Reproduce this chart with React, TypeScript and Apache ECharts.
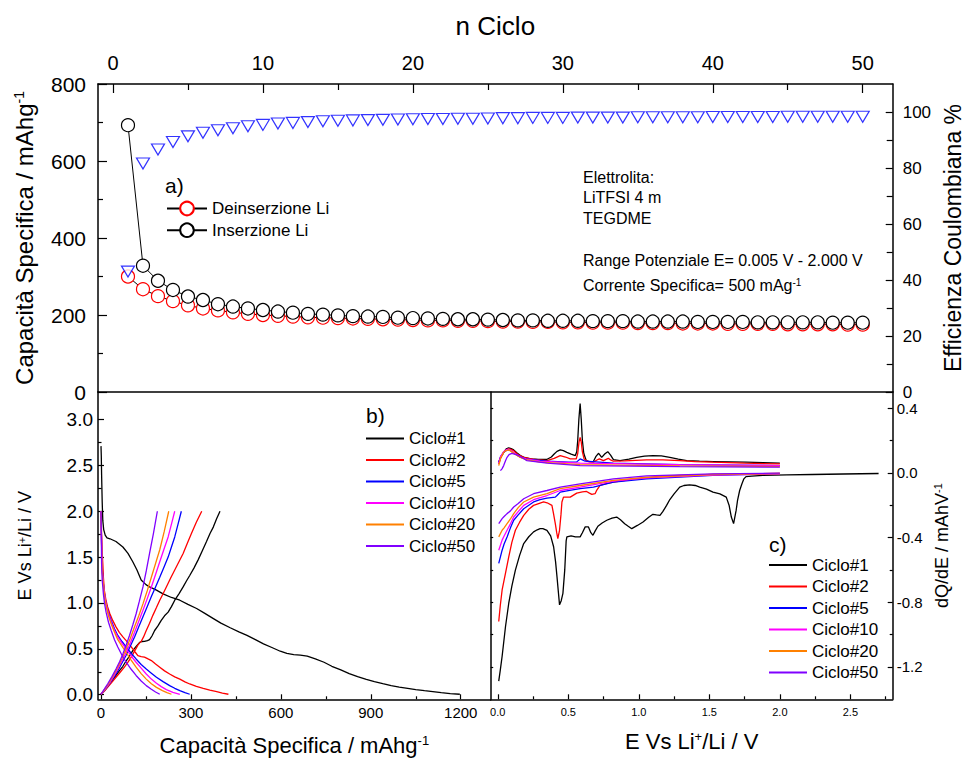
import React, { useEffect, useRef } from 'react';
import * as echarts from 'echarts';

const FONT = '"Liberation Sans", Arial, Helvetica, sans-serif';

// ---------- Panel a: cycling ----------
const cycleNumbers = [1, 2, 3, 4, 5, 6, 7, 8, 9, 10, 11, 12, 13, 14, 15, 16, 17, 18, 19, 20, 21, 22, 23, 24, 25,
  26, 27, 28, 29, 30, 31, 32, 33, 34, 35, 36, 37, 38, 39, 40, 41, 42, 43, 44, 45, 46, 47, 48, 49, 50];
const deinserzione = [300, 267, 249, 236, 225, 217, 212, 207, 203, 200, 198, 196, 194, 193, 192, 191, 190, 189, 188, 187,
  186, 186, 185, 185, 184, 183, 183, 182, 182, 181, 181, 180, 180, 180, 179, 179, 179, 178, 178, 178,
  177, 177, 177, 177, 176, 176, 176, 176, 175, 175];
const inserzione = [693, 328, 289, 265, 248, 239, 228, 222, 217, 213, 209, 206, 203, 201, 199, 197, 196, 195, 193, 192,
  191, 190, 189, 189, 188, 187, 186, 186, 185, 185, 185, 184, 184, 184, 183, 183, 183, 183, 182, 182,
  182, 182, 181, 181, 181, 181, 181, 180, 180, 180];
const efficienza = [43, 81.6, 86.6, 89.3, 91.3, 92.6, 93.5, 94.2, 94.9, 95.4, 95.9, 96.1, 96.4, 96.7, 96.9, 97.0, 97.1, 97.2, 97.3, 97.4,
  97.5, 97.5, 97.6, 97.6, 97.7, 97.8, 97.8, 97.9, 97.9, 97.9, 98.0, 98.0, 98.0, 98.0, 98.1, 98.1, 98.1, 98.1, 98.1, 98.2,
  98.2, 98.2, 98.2, 98.2, 98.3, 98.3, 98.3, 98.3, 98.3, 98.3];

const nCicloTicks = [0, 10, 20, 30, 40, 50];
const nCicloMinor = [5, 15, 25, 35, 45];
const effTicks = [0, 20, 40, 60, 80, 100];
const effMinor = [10, 30, 50, 70, 90];

const annotationLines = ['Elettrolita:', 'LiTFSI 4 m', 'TEGDME', 'Range Potenziale E= 0.005 V - 2.000 V', 'Corrente Specifica= 500 mAg{sup|-1}'];
const annotationY = [177, 197, 218, 260, 285];

// ---------- Panel b: galvanostatic profiles [capacity, V] ----------
const gc1Discharge = [[0, 2.71], [1, 2.6], [2, 2.4], [4, 2.1], [6, 1.9], [9, 1.8], [14, 1.74], [20, 1.71], [30, 1.70], [50, 1.67], [73, 1.61], [90, 1.54], [106, 1.45], [120, 1.36], [134, 1.25], [150, 1.2], [162, 1.175], [185, 1.14], [207, 1.10], [235, 1.06], [263, 1.03], [290, 0.985], [319, 0.94], [345, 0.89], [375, 0.83], [400, 0.78], [431, 0.73], [460, 0.685], [487, 0.646], [515, 0.6], [542, 0.555], [570, 0.515], [598, 0.474], [620, 0.45], [643, 0.438], [665, 0.432], [688, 0.42], [715, 0.39], [744, 0.354], [770, 0.31], [800, 0.27], [828, 0.23], [856, 0.197], [885, 0.167], [912, 0.142], [940, 0.12], [968, 0.099], [995, 0.083], [1023, 0.069], [1050, 0.056], [1079, 0.044], [1107, 0.033], [1135, 0.022], [1165, 0.011], [1197, 0.005]];
const gc1Charge = [[0, 0.005], [10, 0.04], [28, 0.117], [45, 0.19], [61, 0.26], [73, 0.31], [84, 0.37], [95, 0.42], [106, 0.48], [118, 0.53], [129, 0.57], [137, 0.58], [145, 0.582], [155, 0.59], [162, 0.6], [170, 0.64], [179, 0.70], [190, 0.75], [201, 0.81], [212, 0.86], [224, 0.90], [235, 0.96], [246, 1.03], [260, 1.10], [274, 1.175], [285, 1.24], [296, 1.30], [310, 1.38], [324, 1.47], [338, 1.57], [352, 1.67], [364, 1.76], [375, 1.83], [386, 1.92], [397, 2.0]];
const gc2Discharge = [[0, 2.0], [2, 1.75], [4, 1.55], [6, 1.43], [8, 1.28], [11, 1.14], [16, 1.04], [22, 0.956], [30, 0.88], [39, 0.81], [50, 0.74], [61, 0.68], [73, 0.63], [84, 0.59], [95, 0.545], [106, 0.5], [115, 0.46], [123, 0.427], [134, 0.415], [145, 0.41], [157, 0.39], [168, 0.372], [182, 0.335], [196, 0.30], [212, 0.26], [229, 0.226], [246, 0.195], [263, 0.17], [280, 0.14], [296, 0.117], [318, 0.09], [341, 0.069], [363, 0.05], [386, 0.033], [405, 0.018], [425, 0.005]];
const gc2Charge = [[0, 0.005], [10, 0.035], [22, 0.08], [36, 0.135], [50, 0.19], [64, 0.245], [78, 0.30], [90, 0.355], [101, 0.41], [112, 0.475], [123, 0.54], [129, 0.565], [134, 0.58], [142, 0.63], [151, 0.70], [162, 0.78], [173, 0.865], [185, 0.95], [196, 1.03], [207, 1.1], [218, 1.175], [232, 1.27], [246, 1.36], [260, 1.45], [274, 1.54], [288, 1.65], [302, 1.76], [318, 1.88], [336, 2.0]];
const gc5Discharge = [[0, 2.0], [1, 1.8], [3, 1.5], [5, 1.33], [8, 1.21], [12, 1.09], [17, 0.99], [25, 0.89], [34, 0.81], [45, 0.72], [56, 0.646], [70, 0.58], [84, 0.52], [100, 0.455], [117, 0.39], [134, 0.33], [151, 0.28], [168, 0.235], [185, 0.19], [207, 0.143], [229, 0.099], [246, 0.07], [263, 0.044], [280, 0.022], [296, 0.005]];
const gc5Charge = [[0, 0.005], [14, 0.055], [28, 0.117], [42, 0.185], [56, 0.26], [70, 0.345], [84, 0.43], [98, 0.53], [112, 0.63], [126, 0.74], [140, 0.85], [154, 0.96], [168, 1.07], [182, 1.175], [196, 1.28], [210, 1.39], [224, 1.50], [235, 1.61], [246, 1.72], [257, 1.86], [268, 2.0]];
const gc10Discharge = [[0, 2.0], [1, 1.8], [3, 1.5], [5, 1.32], [9, 1.18], [13, 1.07], [17, 0.99], [25, 0.88], [34, 0.79], [45, 0.7], [56, 0.63], [70, 0.56], [84, 0.5], [100, 0.425], [117, 0.354], [134, 0.29], [151, 0.226], [168, 0.17], [185, 0.124], [201, 0.088], [218, 0.055], [240, 0.025], [263, 0.005]];
const gc10Charge = [[0, 0.005], [14, 0.06], [28, 0.124], [42, 0.2], [56, 0.28], [70, 0.37], [84, 0.46], [98, 0.565], [112, 0.68], [126, 0.8], [140, 0.92], [154, 1.045], [168, 1.175], [182, 1.31], [196, 1.45], [210, 1.585], [224, 1.72], [235, 1.86], [246, 2.0]];
const gc20Discharge = [[0, 2.0], [1, 1.8], [3, 1.47], [5, 1.3], [9, 1.16], [13, 1.05], [17, 0.97], [25, 0.86], [34, 0.77], [45, 0.68], [56, 0.6], [70, 0.53], [84, 0.46], [100, 0.38], [117, 0.30], [134, 0.23], [151, 0.17], [168, 0.12], [185, 0.08], [205, 0.045], [220, 0.022], [235, 0.005]];
const gc20Charge = [[0, 0.005], [14, 0.065], [28, 0.135], [42, 0.215], [56, 0.30], [70, 0.395], [84, 0.5], [98, 0.615], [112, 0.74], [126, 0.86], [140, 0.99], [154, 1.13], [168, 1.28], [182, 1.43], [196, 1.58], [211, 1.78], [226, 2.0]];
const gc50Discharge = [[0, 2.0], [1, 1.75], [2, 1.43], [4, 1.25], [8, 1.10], [12, 0.99], [17, 0.90], [25, 0.79], [34, 0.70], [45, 0.6], [56, 0.52], [70, 0.43], [84, 0.354], [100, 0.28], [117, 0.21], [134, 0.15], [151, 0.099], [168, 0.06], [182, 0.03], [196, 0.005]];
const gc50Charge = [[0, 0.005], [11, 0.06], [22, 0.117], [36, 0.195], [50, 0.28], [62, 0.36], [73, 0.445], [84, 0.54], [95, 0.646], [106, 0.76], [117, 0.88], [128, 1.02], [140, 1.175], [151, 1.35], [162, 1.54], [175, 1.76], [188, 2.0]];

const capTicks = [0, 300, 600, 900, 1200];
const capMinor = [150, 450, 750, 1050];
const voltTicks = [0, 0.5, 1.0, 1.5, 2.0, 2.5, 3.0];
const voltMinor = [0.25, 0.75, 1.25, 1.75, 2.25, 2.75];

// ---------- Panel c: differential capacity [E, dQ/dE] ----------
const dq1Charge = [[0.007, 0.066], [0.02, 0.095], [0.042, 0.127], [0.06, 0.148], [0.078, 0.154], [0.095, 0.15], [0.113, 0.142], [0.135, 0.125], [0.16, 0.107], [0.19, 0.095], [0.23, 0.086], [0.29, 0.083], [0.35, 0.084], [0.38, 0.098], [0.40, 0.117], [0.42, 0.133], [0.443, 0.142], [0.465, 0.137], [0.49, 0.127], [0.52, 0.116], [0.55, 0.107], [0.56, 0.13], [0.567, 0.2], [0.575, 0.33], [0.584, 0.429], [0.592, 0.33], [0.60, 0.2], [0.61, 0.12], [0.627, 0.076], [0.65, 0.07], [0.678, 0.07], [0.695, 0.1], [0.714, 0.121], [0.725, 0.11], [0.737, 0.096], [0.76, 0.118], [0.78, 0.131], [0.80, 0.11], [0.82, 0.082], [0.867, 0.076], [0.93, 0.085], [0.985, 0.096], [1.04, 0.103], [1.10, 0.107], [1.16, 0.105], [1.22, 0.096], [1.28, 0.085], [1.34, 0.076], [1.43, 0.072], [1.53, 0.07], [1.65, 0.068], [1.76, 0.066], [1.88, 0.063], [2.0, 0.06]];
const dq1Discharge = [[2.70, -0.004], [2.45, -0.007], [2.23, -0.01], [2.05, -0.013], [1.88, -0.016], [1.80, -0.02], [1.76, -0.023], [1.745, -0.037], [1.73, -0.07], [1.715, -0.109], [1.70, -0.17], [1.69, -0.232], [1.672, -0.314], [1.656, -0.273], [1.64, -0.2], [1.62, -0.15], [1.575, -0.13], [1.526, -0.119], [1.48, -0.1], [1.432, -0.088], [1.40, -0.078], [1.36, -0.074], [1.32, -0.078], [1.29, -0.088], [1.25, -0.13], [1.22, -0.165], [1.197, -0.201], [1.17, -0.24], [1.15, -0.263], [1.125, -0.26], [1.10, -0.256], [1.07, -0.275], [1.03, -0.304], [0.99, -0.325], [0.95, -0.345], [0.925, -0.33], [0.90, -0.314], [0.87, -0.29], [0.843, -0.273], [0.81, -0.28], [0.773, -0.293], [0.74, -0.31], [0.71, -0.33], [0.69, -0.36], [0.675, -0.386], [0.66, -0.37], [0.643, -0.334], [0.62, -0.334], [0.60, -0.37], [0.584, -0.396], [0.55, -0.396], [0.52, -0.39], [0.49, -0.396], [0.485, -0.42], [0.475, -0.6], [0.462, -0.745], [0.45, -0.79], [0.438, -0.816], [0.43, -0.74], [0.42, -0.642], [0.41, -0.55], [0.396, -0.457], [0.375, -0.39], [0.349, -0.355], [0.32, -0.345], [0.30, -0.345], [0.28, -0.352], [0.254, -0.365], [0.22, -0.395], [0.184, -0.437], [0.155, -0.51], [0.125, -0.601], [0.1, -0.7], [0.078, -0.806], [0.055, -0.95], [0.031, -1.134], [0.018, -1.22], [0.007, -1.288]];
const dq2Charge = [[0.007, 0.055], [0.02, 0.09], [0.042, 0.127], [0.06, 0.142], [0.078, 0.148], [0.095, 0.145], [0.113, 0.137], [0.14, 0.115], [0.184, 0.096], [0.25, 0.085], [0.349, 0.076], [0.40, 0.09], [0.443, 0.107], [0.48, 0.098], [0.514, 0.086], [0.556, 0.086], [0.567, 0.12], [0.576, 0.19], [0.584, 0.219], [0.592, 0.19], [0.60, 0.13], [0.612, 0.086], [0.64, 0.07], [0.678, 0.066], [0.70, 0.078], [0.72, 0.086], [0.749, 0.076], [0.784, 0.09], [0.80, 0.08], [0.82, 0.072], [0.9, 0.074], [1.055, 0.08], [1.17, 0.08], [1.29, 0.076], [1.4, 0.07], [1.526, 0.066], [1.75, 0.06], [2.0, 0.055]];
const dq2Discharge = [[2.0, -0.004], [1.76, -0.006], [1.526, -0.01], [1.29, -0.016], [1.15, -0.022], [1.055, -0.031], [0.94, -0.042], [0.82, -0.057], [0.76, -0.068], [0.725, -0.078], [0.70, -0.11], [0.69, -0.129], [0.667, -0.133], [0.65, -0.125], [0.63, -0.115], [0.6, -0.118], [0.56, -0.125], [0.514, -0.15], [0.466, -0.15], [0.455, -0.18], [0.448, -0.26], [0.438, -0.355], [0.426, -0.406], [0.418, -0.37], [0.408, -0.314], [0.395, -0.25], [0.384, -0.201], [0.35, -0.185], [0.325, -0.18], [0.29, -0.19], [0.254, -0.201], [0.22, -0.225], [0.184, -0.263], [0.155, -0.305], [0.125, -0.355], [0.1, -0.43], [0.078, -0.519], [0.055, -0.62], [0.031, -0.724], [0.018, -0.82], [0.007, -0.919]];
const dq5Charge = [[0.007, 0.066], [0.02, 0.1], [0.042, 0.127], [0.06, 0.138], [0.078, 0.142], [0.095, 0.135], [0.12, 0.117], [0.16, 0.097], [0.2, 0.086], [0.35, 0.072], [0.5, 0.066], [0.56, 0.068], [0.584, 0.086], [0.6, 0.08], [0.62, 0.072], [0.82, 0.06], [1.29, 0.051], [2.0, 0.045]];
const dq5Discharge = [[2.0, -0.006], [1.526, -0.016], [1.055, -0.037], [0.82, -0.057], [0.678, -0.088], [0.584, -0.098], [0.5, -0.11], [0.443, -0.119], [0.42, -0.14], [0.408, -0.15], [0.349, -0.156], [0.3, -0.166], [0.254, -0.18], [0.184, -0.222], [0.145, -0.26], [0.113, -0.293], [0.09, -0.34], [0.066, -0.396], [0.045, -0.44], [0.031, -0.478], [0.007, -0.56]];
const dq10Charge = [[0.007, 0.06], [0.02, 0.1], [0.042, 0.131], [0.06, 0.143], [0.078, 0.146], [0.095, 0.138], [0.12, 0.121], [0.16, 0.098], [0.2, 0.086], [0.3, 0.072], [0.584, 0.06], [1.29, 0.051], [2.0, 0.045]];
const dq10Discharge = [[2.0, -0.006], [1.526, -0.014], [1.055, -0.031], [0.82, -0.051], [0.584, -0.088], [0.443, -0.109], [0.349, -0.14], [0.254, -0.166], [0.184, -0.201], [0.145, -0.24], [0.113, -0.273], [0.09, -0.315], [0.066, -0.355], [0.045, -0.39], [0.031, -0.416], [0.007, -0.478]];
const dq20Charge = [[0.007, 0.045], [0.02, 0.09], [0.042, 0.127], [0.06, 0.138], [0.078, 0.142], [0.095, 0.133], [0.12, 0.117], [0.16, 0.095], [0.2, 0.082], [0.3, 0.066], [0.584, 0.051], [1.29, 0.043], [2.0, 0.039]];
const dq20Discharge = [[2.0, -0.004], [1.526, -0.01], [1.055, -0.027], [0.82, -0.047], [0.584, -0.078], [0.443, -0.098], [0.349, -0.129], [0.254, -0.15], [0.184, -0.18], [0.145, -0.215], [0.113, -0.252], [0.09, -0.285], [0.066, -0.314], [0.045, -0.34], [0.031, -0.355], [0.007, -0.396]];
const dq50Charge = [[0.019, 0.014], [0.03, 0.025], [0.042, 0.045], [0.055, 0.075], [0.066, 0.096], [0.08, 0.113], [0.1, 0.121], [0.125, 0.115], [0.148, 0.107], [0.18, 0.09], [0.207, 0.076], [0.35, 0.06], [0.584, 0.045], [1.29, 0.039], [2.0, 0.035]];
const dq50Discharge = [[2.0, -0.002], [1.526, -0.006], [1.055, -0.018], [0.82, -0.037], [0.584, -0.068], [0.443, -0.088], [0.349, -0.109], [0.254, -0.129], [0.184, -0.16], [0.145, -0.19], [0.113, -0.211], [0.09, -0.235], [0.066, -0.252], [0.045, -0.27], [0.031, -0.283], [0.007, -0.314]];

const eTicks = [0, 0.5, 1.0, 1.5, 2.0, 2.5];
const eMinor = [0.25, 0.75, 1.25, 1.75, 2.25, 2.75];
const dqTicks = [-1.2, -0.8, -0.4, 0, 0.4];
const dqMinor = [-1.0, -0.6, -0.2, 0.2];
const dqLeftTicks = [-1.2, -1.0, -0.8, -0.6, -0.4, -0.2, 0, 0.2, 0.4];

const cycleNames = ['Ciclo#1', 'Ciclo#2', 'Ciclo#5', 'Ciclo#10', 'Ciclo#20', 'Ciclo#50'];
const cycleColors = ['#000000', '#ff0000', '#0000ff', '#ff00ff', '#ff8000', '#8000ff'];
const galvDischarge = [gc1Discharge, gc2Discharge, gc5Discharge, gc10Discharge, gc20Discharge, gc50Discharge];
const galvCharge = [gc1Charge, gc2Charge, gc5Charge, gc10Charge, gc20Charge, gc50Charge];
const dqCharge = [dq1Charge, dq2Charge, dq5Charge, dq10Charge, dq20Charge, dq50Charge];
const dqDischarge = [dq1Discharge, dq2Discharge, dq5Discharge, dq10Discharge, dq20Discharge, dq50Discharge];

const BLACK = '#000';
const axisLine = { show: true, onZero: false, lineStyle: { color: BLACK, width: 1.5 } };
const tickLine = { color: BLACK, width: 1.2 };
const supRich = (size: number) => ({
  sup: { fontSize: size, fontFamily: FONT, color: BLACK, verticalAlign: 'top' as const },
});

function buildOption(): any {
  const minorAxis = (extra: any) => ({
    type: 'value',
    axisLine: { show: false, onZero: false },
    axisLabel: { show: false },
    splitLine: { show: false },
    ...extra,
  });

  const xAxis = [
    {
      gridIndex: 0, type: 'value', position: 'top', min: -1, max: 52,
      axisLine,
      axisTick: { show: true, inside: true, length: 9, customValues: nCicloTicks, lineStyle: tickLine },
      axisLabel: { customValues: nCicloTicks, fontSize: 20, color: BLACK, fontFamily: FONT, margin: 11, formatter: (v: number) => String(v) },
      splitLine: { show: false },
      name: 'n Ciclo', nameLocation: 'middle', nameGap: 45,
      nameTextStyle: { fontSize: 26, color: BLACK, fontFamily: FONT },
    },
    minorAxis({ gridIndex: 0, position: 'top', min: -1, max: 52, axisTick: { show: true, inside: true, length: 6, customValues: nCicloMinor, lineStyle: tickLine } }),
    {
      gridIndex: 0, type: 'value', position: 'bottom', min: -1, max: 52,
      axisLine, axisTick: { show: false }, axisLabel: { show: false }, splitLine: { show: false },
    },
    {
      gridIndex: 1, type: 'value', position: 'bottom', min: -10, max: 1300,
      axisLine,
      axisTick: { show: true, inside: true, length: 5, customValues: capTicks, lineStyle: tickLine },
      axisLabel: { customValues: capTicks, fontSize: 15, color: BLACK, fontFamily: FONT, margin: 6, formatter: (v: number) => String(v) },
      splitLine: { show: false },
      name: 'Capacità Specifica / mAhg{sup|-1}', nameLocation: 'middle', nameGap: 35,
      nameTextStyle: { fontSize: 22, color: BLACK, fontFamily: FONT, rich: supRich(13) },
    },
    minorAxis({ gridIndex: 1, position: 'bottom', min: -10, max: 1300, axisTick: { show: true, inside: true, length: 3, customValues: capMinor, lineStyle: tickLine } }),
    {
      gridIndex: 2, type: 'value', position: 'bottom', min: -0.05, max: 2.8,
      axisLine,
      axisTick: { show: true, inside: true, length: 5, customValues: eTicks, lineStyle: tickLine },
      axisLabel: { customValues: eTicks, fontSize: 11, color: BLACK, fontFamily: FONT, margin: 7, formatter: (v: number) => v.toFixed(1) },
      splitLine: { show: false },
      name: 'E Vs Li{sup|+}/Li / V', nameLocation: 'middle', nameGap: 31,
      nameTextStyle: { fontSize: 22, color: BLACK, fontFamily: FONT, rich: supRich(13) },
    },
    minorAxis({ gridIndex: 2, position: 'bottom', min: -0.05, max: 2.8, axisTick: { show: true, inside: true, length: 3, customValues: eMinor, lineStyle: tickLine } }),
  ];

  const yAxis = [
    {
      gridIndex: 0, type: 'value', position: 'left', min: 0, max: 800, interval: 200,
      axisLine,
      axisTick: { show: true, inside: true, length: 9, lineStyle: tickLine },
      minorTick: { show: true, splitNumber: 2, length: 5, lineStyle: tickLine },
      axisLabel: { fontSize: 21, color: BLACK, fontFamily: FONT, margin: 12 },
      splitLine: { show: false }, minorSplitLine: { show: false },
      name: 'Capacità Specifica / mAhg{sup|-1}', nameLocation: 'middle', nameGap: 62,
      nameTextStyle: { fontSize: 24, color: BLACK, fontFamily: FONT, rich: supRich(14) },
    },
    {
      gridIndex: 0, type: 'value', position: 'right', min: 0, max: 110,
      axisLine,
      axisTick: { show: true, inside: true, length: 7, customValues: effTicks, lineStyle: tickLine },
      axisLabel: { customValues: effTicks, fontSize: 17, color: BLACK, fontFamily: FONT, margin: 10 },
      splitLine: { show: false },
      name: 'Efficienza Coulombiana %', nameLocation: 'middle', nameGap: 48,
      nameTextStyle: { fontSize: 23, color: BLACK, fontFamily: FONT },
    },
    minorAxis({ gridIndex: 0, position: 'right', min: 0, max: 110, axisTick: { show: true, inside: true, length: 6, customValues: effMinor, lineStyle: tickLine } }),
    {
      gridIndex: 1, type: 'value', position: 'left', min: -0.05, max: 3.3,
      axisLine,
      axisTick: { show: true, inside: true, length: 6, customValues: voltTicks, lineStyle: tickLine },
      axisLabel: { customValues: voltTicks, fontSize: 19, color: BLACK, fontFamily: FONT, margin: 5, formatter: (v: number) => v.toFixed(1) },
      splitLine: { show: false },
      name: 'E Vs Li{sup|+}/Li / V', nameLocation: 'middle', nameGap: 64,
      nameTextStyle: { fontSize: 18, color: BLACK, fontFamily: FONT, rich: supRich(11) },
    },
    minorAxis({ gridIndex: 1, position: 'left', min: -0.05, max: 3.3, axisTick: { show: true, inside: true, length: 3.5, customValues: voltMinor, lineStyle: tickLine } }),
    {
      gridIndex: 2, type: 'value', position: 'right', min: -1.4, max: 0.5,
      axisLine,
      axisTick: { show: true, inside: true, length: 5, customValues: dqTicks, lineStyle: tickLine },
      axisLabel: { customValues: dqTicks, fontSize: 15, color: BLACK, fontFamily: FONT, margin: 4, formatter: (v: number) => v.toFixed(1) },
      splitLine: { show: false },
      name: 'dQ/dE / mAhV{sup|-1}', nameLocation: 'middle', nameGap: 40,
      nameTextStyle: { fontSize: 18, color: BLACK, fontFamily: FONT, rich: supRich(11) },
    },
    minorAxis({ gridIndex: 2, position: 'right', min: -1.4, max: 0.5, axisTick: { show: true, inside: true, length: 3, customValues: dqMinor, lineStyle: tickLine } }),
    {
      gridIndex: 2, type: 'value', position: 'left', min: -1.4, max: 0.5,
      axisLine,
      axisTick: { show: true, inside: true, length: 2.5, customValues: dqLeftTicks, lineStyle: tickLine },
      axisLabel: { show: false }, splitLine: { show: false },
    },
  ];

  const series: any[] = [
    {
      name: 'Deinserzione Li', type: 'line', xAxisIndex: 0, yAxisIndex: 0,
      data: cycleNumbers.map((c, i) => [c, deinserzione[i]]),
      symbol: 'circle', symbolSize: 13, showSymbol: true,
      lineStyle: { color: BLACK, width: 1 },
      itemStyle: { color: '#ffffff', borderColor: '#ff0000', borderWidth: 1.2 },
      z: 3,
    },
    {
      name: 'Inserzione Li', type: 'line', xAxisIndex: 0, yAxisIndex: 0,
      data: cycleNumbers.map((c, i) => [c, inserzione[i]]),
      symbol: 'circle', symbolSize: 13, showSymbol: true,
      lineStyle: { color: BLACK, width: 1 },
      itemStyle: { color: '#ffffff', borderColor: BLACK, borderWidth: 1.2 },
      z: 4,
    },
    {
      name: 'Efficienza Coulombiana', type: 'scatter', xAxisIndex: 0, yAxisIndex: 1,
      data: cycleNumbers.map((c, i) => [c, efficienza[i]]),
      symbol: 'triangle', symbolRotate: 180, symbolSize: [13, 11],
      itemStyle: { color: '#ffffff', borderColor: '#0000ff', borderWidth: 1.2 },
      z: 5,
    },
  ];

  cycleNames.forEach((name, i) => {
    const color = cycleColors[i];
    const common = { type: 'line', name, color, symbol: 'none', showSymbol: false, lineStyle: { color, width: 1.3 }, z: 2 + i * 0.01 };
    series.push({ ...common, xAxisIndex: 3, yAxisIndex: 3, data: galvDischarge[i] });
    series.push({ ...common, xAxisIndex: 3, yAxisIndex: 3, data: galvCharge[i] });
    series.push({ ...common, xAxisIndex: 5, yAxisIndex: 5, data: dqCharge[i] });
    series.push({ ...common, xAxisIndex: 5, yAxisIndex: 5, data: dqDischarge[i] });
  });

  const textStyle = { fontSize: 17, color: BLACK, fontFamily: FONT };

  const graphic: any[] = [
    { type: 'text', x: 165, y: 185, style: { text: 'a)', fontSize: 21, fontFamily: FONT, fill: BLACK, verticalAlign: 'middle' } },
    { type: 'text', x: 366, y: 415.5, style: { text: 'b)', fontSize: 21, fontFamily: FONT, fill: BLACK, verticalAlign: 'middle' } },
    { type: 'text', x: 769, y: 544, style: { text: 'c)', fontSize: 21, fontFamily: FONT, fill: BLACK, verticalAlign: 'middle' } },
  ];
  annotationLines.forEach((t, i) => {
    graphic.push({
      type: 'text', x: 583, y: annotationY[i],
      style: {
        text: t, fontSize: 16, fontFamily: FONT, fill: BLACK, verticalAlign: 'middle',
        rich: { sup: { fontSize: 10, fontFamily: FONT, fill: BLACK, verticalAlign: 'top' } },
      },
    });
  });

  return {
    animation: false,
    backgroundColor: '#ffffff',
    grid: [
      { left: 98, top: 84, right: 72.3, bottom: 366, containLabel: false, outerBoundsMode: 'none' },
      { left: 98, top: 392, right: 474.3, bottom: 58.7, containLabel: false, outerBoundsMode: 'none' },
      { left: 490.7, top: 392, right: 72.3, bottom: 58.7, containLabel: false, outerBoundsMode: 'none' },
    ],
    xAxis,
    yAxis,
    legend: [
      {
        data: ['Deinserzione Li', 'Inserzione Li'], orient: 'vertical', left: 166, top: 200, padding: 0,
        itemWidth: 40, itemHeight: 17, itemGap: 4.7, textStyle, selectedMode: false,
      },
      {
        data: cycleNames, orient: 'vertical', left: 366, top: 430, padding: 0,
        itemWidth: 38, itemHeight: 2, itemGap: 4.5, icon: 'rect', itemStyle: { borderWidth: 0 },
        textStyle, selectedMode: false,
      },
      {
        data: cycleNames, orient: 'vertical', left: 769, top: 556.5, padding: 0,
        itemWidth: 38, itemHeight: 2, itemGap: 4.5, icon: 'rect', itemStyle: { borderWidth: 0 },
        textStyle, selectedMode: false,
      },
    ],
    graphic,
    series,
  };
}

export default function App() {
  const ref = useRef<HTMLDivElement>(null);
  useEffect(() => {
    if (!ref.current) return;
    const chart = echarts.init(ref.current, undefined, { renderer: 'svg' });
    chart.setOption(buildOption());
    return () => chart.dispose();
  }, []);
  return (
    <div
      ref={ref}
      style={{ position: 'absolute', left: 0, top: 0, width: 965, height: 758, background: '#fff' }}
    />
  );
}
